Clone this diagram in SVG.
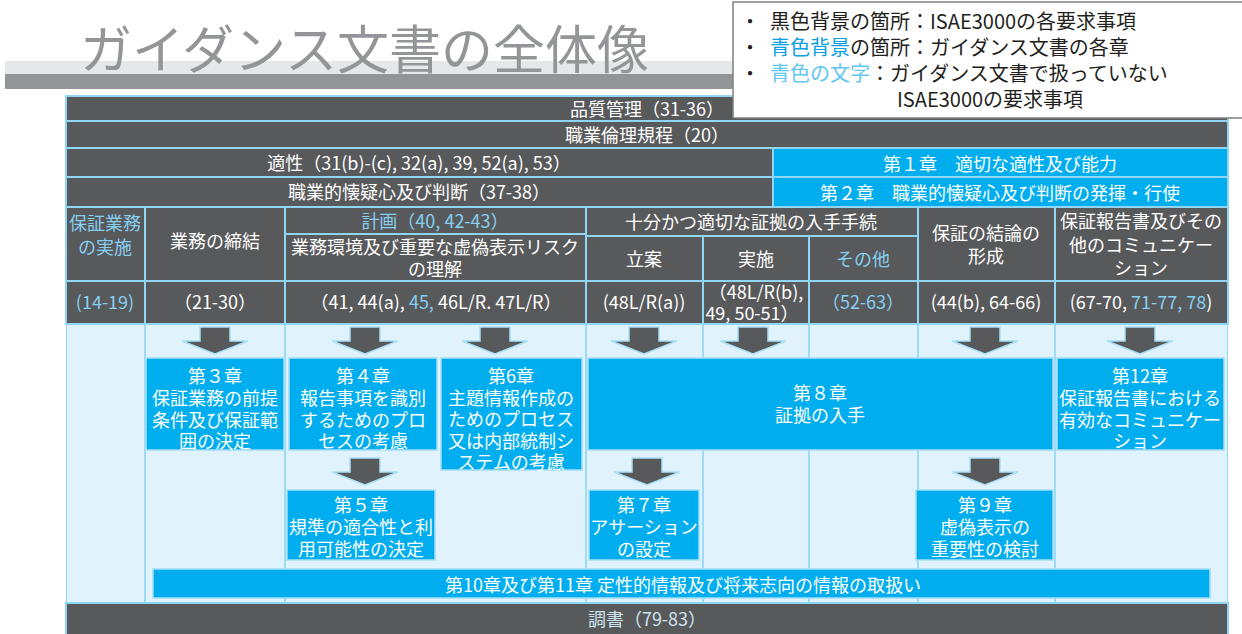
<svg xmlns="http://www.w3.org/2000/svg" xmlns:xlink="http://www.w3.org/1999/xlink" width="1242" height="634" viewBox="0 0 1242 634">
<style>
text{font-family:"Noto Sans CJK JP","Noto Sans",sans-serif;font-size:18px;text-anchor:middle;dominant-baseline:central}
.dk{fill:#58595b;stroke:#8fd6f5;stroke-width:2}
.bl{fill:#00aeef;stroke:#8fd6f5;stroke-width:2}
.bx{fill:#00aeef;stroke:#a5def6;stroke-width:1.5}
.w{fill:#ffffff}
.lb{fill:#86cff1}
.vl{stroke:#9edcf6;stroke-width:2}
.lg{font-size:20px;text-anchor:start;fill:#231f20}
</style>
<defs>
<path id="arr" d="M-15,0 H15 V14 H33 L0,27 L-33,14 H-15 Z" fill="#58595b" stroke="#a8e0f7" stroke-width="1.5"/>
</defs>
<rect width="1242" height="634" fill="#ffffff"/>
<g id="title">
<rect x="5" y="61" width="730" height="13" fill="#e6e7e8"/>
<rect x="5" y="74" width="730" height="15" fill="#929497"/>
<text x="80" y="46" style="font-size:52px;text-anchor:start;fill:#939598">ガイダンス文書の全体像</text>
</g>
<g id="table-bg">
<rect x="66" y="95" width="1162" height="539" fill="#8fd6f5"/>
<rect x="67" y="324" width="1160" height="279" fill="#e0f2fb"/>
<line class="vl" x1="145" y1="324" x2="145" y2="603"/>
<line class="vl" x1="285" y1="324" x2="285" y2="603"/>
<line class="vl" x1="586" y1="324" x2="586" y2="603"/>
<line class="vl" x1="703" y1="324" x2="703" y2="603"/>
<line class="vl" x1="809" y1="324" x2="809" y2="603"/>
<line class="vl" x1="918" y1="324" x2="918" y2="603"/>
<line class="vl" x1="1055" y1="324" x2="1055" y2="603"/>
</g>
<g id="row-quality"><rect class="dk" x="66" y="96" width="1162" height="25"/><text class="w" x="647" y="108">品質管理（31-36）</text></g>
<g id="row-ethics"><rect class="dk" x="66" y="121" width="1162" height="27"/><text class="w" x="647" y="134">職業倫理規程（20）</text></g>
<g id="row-fitness"><rect class="dk" x="66" y="148" width="707" height="29"/><text class="w" x="419" y="162">適性（31(b)-(c), 32(a), 39, 52(a), 53）</text></g>
<g id="row-skepticism"><rect class="dk" x="66" y="177" width="707" height="30"/><text class="w" x="419" y="191">職業的懐疑心及び判断（37-38）</text></g>
<g id="ch1"><rect class="bl" x="773" y="148" width="455" height="29"/><text class="w" x="1000" y="163">第１章　適切な適性及び能力</text></g>
<g id="ch2"><rect class="bl" x="773" y="177" width="455" height="30"/><text class="w" x="1000" y="192">第２章　職業的懐疑心及び判断の発揮・行使</text></g>
<g id="hdr-perform"><rect class="dk" x="66" y="207" width="79" height="74"/><text class="lb" x="105" y="222">保証業務<tspan x="105" dy="24">の実施</tspan></text></g>
<g id="hdr-engage"><rect class="dk" x="145" y="207" width="140" height="74"/><text class="w" x="215" y="240">業務の締結</text></g>
<g id="hdr-plan"><rect class="dk" x="285" y="207" width="301" height="27"/><text class="lb" x="435" y="220">計画（40, 42-43）</text>
<rect class="dk" x="285" y="234" width="301" height="47"/><text class="w" x="435" y="246">業務環境及び重要な虚偽表示リスク<tspan x="435" dy="22">の理解</tspan></text></g>
<g id="hdr-evidence"><rect class="dk" x="586" y="207" width="332" height="29"/><text class="w" x="751" y="221">十分かつ適切な証拠の入手手続</text>
<rect class="dk" x="586" y="236" width="117" height="45"/><text class="w" x="644" y="258">立案</text>
<rect class="dk" x="703" y="236" width="106" height="45"/><text class="w" x="756" y="258">実施</text>
<rect class="dk" x="809" y="236" width="109" height="45"/><text class="lb" x="863" y="258">その他</text></g>
<g id="hdr-conclusion"><rect class="dk" x="918" y="207" width="137" height="74"/><text class="w" x="986" y="232">保証の結論の<tspan x="986" dy="23">形成</tspan></text></g>
<g id="hdr-report"><rect class="dk" x="1055" y="207" width="173" height="74"/><text class="w" x="1141" y="220">保証報告書及びその<tspan x="1141" dy="24">他のコミュニケー</tspan><tspan x="1141" dy="23">ション</tspan></text></g>
<g id="num-row">
<rect class="dk" x="66" y="281" width="79" height="43"/><text class="lb" x="105" y="301">(14-19)</text>
<rect class="dk" x="145" y="281" width="140" height="43"/><text class="w" x="215" y="301">（21-30）</text>
<rect class="dk" x="285" y="281" width="301" height="43"/><text class="w" x="436" y="301">（41, 44(a), <tspan class="lb">45,</tspan> 46L/R. 47L/R）</text>
<rect class="dk" x="586" y="281" width="117" height="43"/><text class="w" x="644" y="301">(48L/R(a))</text>
<rect class="dk" x="703" y="281" width="106" height="43"/><text class="w" x="756" y="291">（48L/R(b),<tspan x="752" dy="21">49, 50-51）</tspan></text>
<rect class="dk" x="809" y="281" width="109" height="43"/><text class="lb" x="863" y="301">（52-63）</text>
<rect class="dk" x="918" y="281" width="137" height="43"/><text class="w" x="986" y="301">(44(b), 64-66)</text>
<rect class="dk" x="1055" y="281" width="173" height="43"/><text class="w" x="1141" y="301">(67-70, <tspan class="lb">71-77, 78</tspan>)</text>
</g>
<g id="ch3"><rect class="bx" x="146" y="358" width="138" height="92"/><text class="w" x="215" y="375">第３章<tspan x="215" dy="22">保証業務の前提</tspan><tspan x="215" dy="22">条件及び保証範</tspan><tspan x="215" dy="21">囲の決定</tspan></text></g>
<g id="ch4"><rect class="bx" x="289" y="358" width="148" height="92"/><text class="w" x="363" y="375">第４章<tspan x="363" dy="22">報告事項を識別</tspan><tspan x="363" dy="22">するためのプロ</tspan><tspan x="363" dy="21">セスの考慮</tspan></text></g>
<g id="ch6"><rect class="bx" x="441" y="358" width="141" height="112"/><text class="w" x="511" y="375">第6章<tspan x="511" dy="22">主題情報作成の</tspan><tspan x="511" dy="21">ためのプロセス</tspan><tspan x="511" dy="22">又は内部統制シ</tspan><tspan x="511" dy="21">ステムの考慮</tspan></text></g>
<g id="ch8"><rect class="bx" x="588" y="358" width="465" height="92"/><text class="w" x="820" y="392">第８章<tspan x="820" dy="22">証拠の入手</tspan></text></g>
<g id="ch12"><rect class="bx" x="1057" y="358" width="167" height="92"/><text class="w" x="1140" y="375">第12章<tspan x="1140" dy="22">保証報告書における</tspan><tspan x="1140" dy="22">有効なコミュニケー</tspan><tspan x="1140" dy="21">ション</tspan></text></g>
<g id="ch5"><rect class="bx" x="287" y="490" width="148" height="70"/><text class="w" x="361" y="504">第５章<tspan x="361" dy="22">規準の適合性と利</tspan><tspan x="361" dy="22">用可能性の決定</tspan></text></g>
<g id="ch7"><rect class="bx" x="589" y="490" width="110" height="70"/><text class="w" x="644" y="504">第７章<tspan x="644" dy="22">アサーション</tspan><tspan x="644" dy="22">の設定</tspan></text></g>
<g id="ch9"><rect class="bx" x="916" y="490" width="137" height="70"/><text class="w" x="985" y="504">第９章<tspan x="985" dy="22">虚偽表示の</tspan><tspan x="985" dy="22">重要性の検討</tspan></text></g>
<g id="ch10-11"><rect class="bx" x="153" y="569" width="1057" height="29"/><text class="w" x="683" y="584">第10章及び第11章 定性的情報及び将来志向の情報の取扱い</text></g>
<g id="row-records"><rect class="dk" x="66" y="603" width="1162" height="32"/><text x="647" y="618" style="fill:#cfe3ee">調書（79-83）</text></g>
<g id="connectors">
<use xlink:href="#arr" x="215" y="327"/>
<use xlink:href="#arr" x="365" y="327"/>
<use xlink:href="#arr" x="495" y="327"/>
<use xlink:href="#arr" x="644" y="327"/>
<use xlink:href="#arr" x="753" y="327"/>
<use xlink:href="#arr" x="985" y="327"/>
<use xlink:href="#arr" x="1140" y="327"/>
<use xlink:href="#arr" x="365" y="458"/>
<use xlink:href="#arr" x="647" y="458"/>
<use xlink:href="#arr" x="985" y="458"/>
</g>
<g id="legend">
<rect x="733" y="2" width="512" height="116" fill="#ffffff" stroke="#7f7f7f" stroke-width="1.5"/>
<text class="lg" x="740" y="20">・<tspan x="740" dy="26">・</tspan><tspan x="740" dy="26">・</tspan></text>
<text class="lg" x="770" y="20">黒色背景の箇所：ISAE3000の各要求事項</text>
<text class="lg" x="770" y="46"><tspan fill="#0aa1e4">青色背景</tspan>の箇所：ガイダンス文書の各章</text>
<text class="lg" x="770" y="72"><tspan fill="#5ec6f0">青色の文字</tspan>：ガイダンス文書で扱っていない</text>
<text class="lg" x="897" y="98">ISAE3000の要求事項</text>
</g>
</svg>
